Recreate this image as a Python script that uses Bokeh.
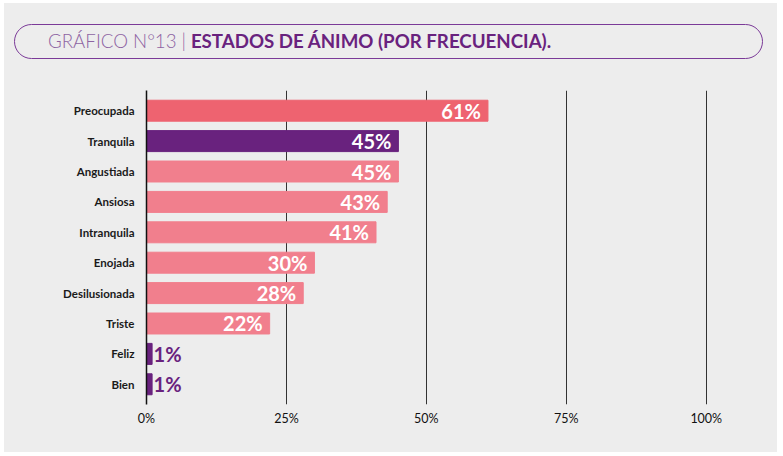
from bokeh.plotting import figure
from bokeh.layouts import column
from bokeh.models import FactorRange, Range1d, FixedTicker, ColumnDataSource, Div
from bokeh.core.properties import value
from bokeh.embed import file_html
from bokeh.resources import INLINE

categories = ["Preocupada", "Tranquila", "Angustiada", "Ansiosa", "Intranquila",
              "Enojada", "Desilusionada", "Triste", "Feliz", "Bien"]
values = [61, 45, 45, 43, 41, 30, 28, 22, 1, 1]
bar_colors = ["#EE6370", "#69227E", "#F17F8D", "#F17F8D", "#F17F8D",
              "#F17F8D", "#F17F8D", "#F17F8D", "#69227E", "#69227E"]
x_ticks = [0, 25, 50, 75, 100]
x_tick_labels = ["0%", "25%", "50%", "75%", "100%"]
title_light = "GRÁFICO N°13 |"
title_bold = "ESTADOS DE ÁNIMO (POR FRECUENCIA)."

BG = "#EDEDED"
FONT = "Lato"

inside = ColumnDataSource(dict(
    cat=[c for c, v in zip(categories, values) if v >= 10],
    val=[v for v in values if v >= 10],
    label=[f"{v}%" for v in values if v >= 10]))
outside = ColumnDataSource(dict(
    cat=[c for c, v in zip(categories, values) if v < 10],
    val=[v for v in values if v < 10],
    label=[f"{v}%" for v in values if v < 10]))
src = ColumnDataSource(dict(cat=categories, val=values, color=bar_colors))

title_html = (
    '<div style="margin:21px 0 0 10px;width:749px;height:35px;'
    'box-sizing:border-box;border:1.5px solid #7B3A98;border-radius:18px;'
    'padding-left:33px;font-family:Lato,sans-serif;font-size:18.7px;'
    'line-height:32px;white-space:nowrap;">'
    f'<span style="color:#8E64A3;font-weight:300;">{title_light}</span> '
    f'<span style="color:#69227E;font-weight:bold;">{title_bold}</span>'
    '</div>'
)
header = Div(text=title_html, width=773, height=87, margin=0,
             styles={"background-color": BG})

p = figure(width=773, height=362, margin=0,
           y_range=FactorRange(factors=categories[::-1], range_padding=0.033),
           x_range=Range1d(0, 100.4),
           output_backend="svg", toolbar_location=None,
           min_border_left=142, min_border_right=69, min_border_top=0,
           min_border_bottom=48, outline_line_color=None)
p.background_fill_color = BG
p.border_fill_color = BG

p.hbar(y="cat", right="val", left=0, height=0.69, color="color", source=src)
p.text(x="val", y="cat", text="label", source=inside, x_offset=-7,
       text_align="right", text_baseline="middle", text_color="white",
       text_font=value(FONT), text_font_size="20px", text_font_style="bold")
p.text(x="val", y="cat", text="label", source=outside, x_offset=1.5,
       text_align="left", text_baseline="middle", text_color="#69227E",
       text_font=value(FONT), text_font_size="20px", text_font_style="bold")

p.xaxis.ticker = FixedTicker(ticks=x_ticks)
p.xaxis.major_label_overrides = {k: v for k, v in zip(x_ticks, x_tick_labels)}
p.xaxis.axis_line_color = None
p.xaxis.major_tick_line_color = None
p.xaxis.minor_tick_line_color = None
p.xaxis.major_tick_out = 0
p.xaxis.major_tick_in = 0
p.xaxis.major_label_standoff = 6
p.xaxis.major_label_text_font = FONT
p.xaxis.major_label_text_font_size = "12.5px"
p.xaxis.major_label_text_color = "#111111"

p.yaxis.axis_line_color = "#111111"
p.yaxis.axis_line_width = 1.5
p.yaxis.major_tick_line_color = None
p.yaxis.minor_tick_line_color = None
p.yaxis.major_tick_out = 0
p.yaxis.major_tick_in = 0
p.yaxis.major_label_standoff = 12
p.yaxis.major_label_text_font = FONT
p.yaxis.major_label_text_font_size = "11.5px"
p.yaxis.major_label_text_font_style = "bold"
p.yaxis.major_label_text_color = "#1A1A1A"

p.ygrid.grid_line_color = None
p.xgrid.ticker = FixedTicker(ticks=x_ticks)
p.xgrid.grid_line_color = "#333333"
p.xgrid.grid_line_width = 1

layout = column(header, p, spacing=0, styles={"background-color": BG},
                margin=(3, 6, 4, 4))
open("out.html", "w").write(file_html(layout, INLINE))
